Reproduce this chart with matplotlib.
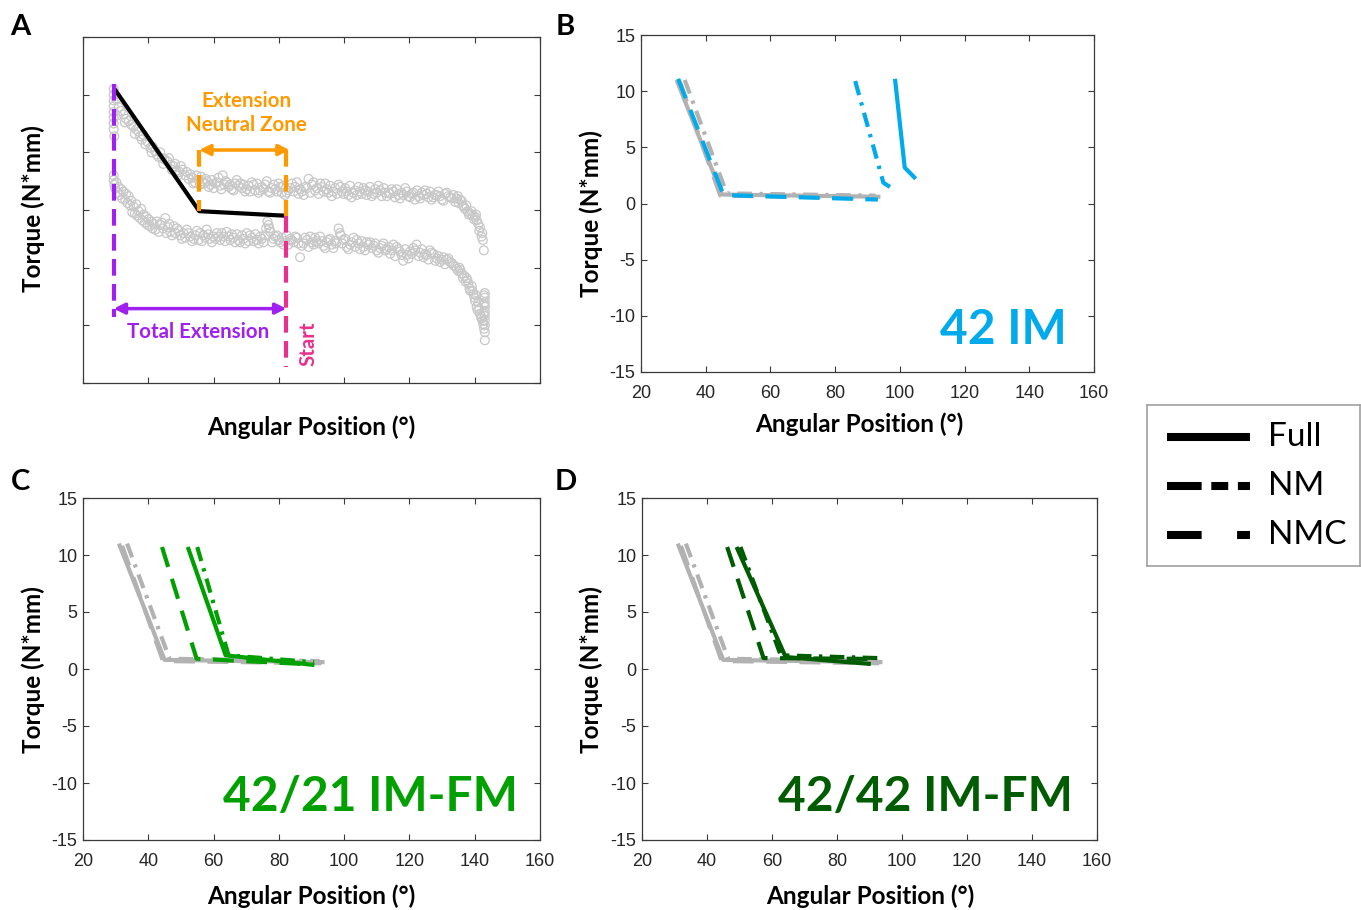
import matplotlib
matplotlib.use("Agg")
import matplotlib.pyplot as plt
import numpy as np

W, H = 1361, 910

# ---- data -------------------------------------------------------------
# panel A: raw torque loop (open circles), upper and lower branches
upper_x = [29.4, 29.4, 29.4, 29.4, 29.4, 29.4, 29.4, 29.4, 29.6, 31.0,
           32.4, 33.2, 34.0, 35.5, 36.3, 37.0, 38.0, 39.1, 40.6, 41.3,
           42.1, 43.2, 44.2, 45.0, 45.9, 46.8, 47.7, 48.6, 49.6, 50.5,
           51.3, 52.4, 53.4, 54.3, 55.4, 56.2, 57.1, 58.0, 59.0, 60.0,
           61.0, 62.0, 62.8, 63.7, 64.6, 65.6, 66.6, 67.6, 68.7, 69.7,
           70.7, 71.7, 72.7, 73.8, 74.8, 75.8, 76.8, 77.8, 78.9, 79.9,
           80.9, 81.9, 82.9, 84.0, 85.0, 86.0, 87.0, 88.1, 89.1, 90.1,
           91.1, 92.2, 93.2, 94.2, 95.2, 96.2, 97.2, 98.3, 99.3, 100.3,
           101.3, 102.3, 103.3, 104.4, 105.4, 106.4, 107.4, 108.5, 109.5, 110.5,
           111.5, 112.6, 113.6, 114.6, 115.6, 116.6, 117.6, 118.7, 119.7, 120.7,
           121.7, 122.8, 123.8, 124.8, 125.8, 126.8, 127.8, 128.9, 129.9, 130.9,
           131.9, 133.0, 134.0, 134.8, 135.5, 136.3, 137.0, 137.8, 138.6, 139.4,
           140.1, 140.6, 141.1, 141.6, 142.1, 142.5, 142.8]
upper_y = [10.5, 10.0, 9.5, 9.0, 8.5, 8.0, 7.5, 7.0, 6.4, 8.9,
           8.3, 7.9, 7.7, 7.2, 7.0, 6.8, 6.1, 5.7, 5.4, 5.5,
           5.1, 4.6, 4.5, 4.4, 4.2, 3.9, 3.8, 3.4, 3.3, 3.5,
           3.0, 2.7, 2.8, 2.4, 2.6, 2.9, 2.3, 2.5, 2.2, 1.9,
           2.4, 2.1, 3.0, 2.5, 2.0, 1.8, 2.3, 2.1, 1.9, 1.6,
           2.1, 2.4, 1.7, 1.5, 2.0, 2.2, 1.6, 1.9, 1.8, 2.3,
           1.5, 1.3, 1.7, 2.3, 2.0, 1.4, 1.6, 2.0, 2.7, 2.2,
           1.7, 1.4, 2.0, 2.3, 1.5, 1.2, 1.9, 2.2, 1.6, 1.9,
           1.3, 1.1, 1.7, 2.0, 1.4, 1.7, 1.6, 1.2, 1.8, 2.1,
           1.2, 1.5, 1.5, 1.8, 1.1, 1.3, 1.5, 1.9, 1.2, 1.4,
           0.9, 1.2, 1.5, 1.7, 1.1, 0.9, 1.3, 1.6, 0.9, 1.4,
           1.2, 1.0, 0.7, 1.2, 0.9, 0.4, 0.1, -0.1, -0.3, -0.5,
           -0.6, -0.9, -1.2, -1.5, -2.3, -2.6, -3.5]
# second pass of the loading branch (interleaved samples)
upper2_x = [30.2, 30.5, 31.6, 32.8, 34.7, 35.9, 37.5, 38.5, 39.8, 41.0,
            42.6, 43.7, 44.6, 46.3, 47.2, 48.2, 49.1, 50.0, 51.8, 52.9,
            53.8, 54.8, 55.8, 56.6, 57.6, 58.5, 59.5, 60.5, 61.5, 62.4,
            63.2, 64.1, 65.1, 66.1, 67.1, 68.2, 69.2, 70.2, 71.2, 72.2,
            73.3, 74.3, 75.3, 76.3, 77.3, 78.4, 79.4, 80.4, 81.4, 82.4,
            83.5, 84.5, 85.5, 86.5, 87.6, 88.6, 89.6, 90.6, 91.6, 92.7,
            93.7, 94.7, 95.7, 96.7, 97.8, 98.8, 99.8, 100.8, 101.8, 102.8,
            103.9, 104.9, 105.9, 106.9, 107.9, 109.0, 110.0, 111.0, 112.1, 113.1,
            114.1, 115.1, 116.1, 117.1, 118.2, 119.2, 120.2, 121.2, 122.3, 123.3,
            124.3, 125.3, 126.3, 127.3, 128.4, 129.4, 130.4, 131.4, 132.5, 133.5,
            134.4, 135.1, 136.0, 136.6, 137.4, 138.2, 139.0, 139.8, 140.4, 141.4,
            142.3]
upper2_y = [9.6, 8.2, 8.6, 7.6, 7.4, 6.6, 6.4, 6.5, 5.9, 5.0,
            4.8, 5.0, 4.0, 4.5, 3.5, 4.0, 3.0, 3.8, 3.3, 3.1,
            2.3, 3.0, 2.2, 2.5, 2.7, 2.0, 2.6, 2.3, 2.8, 1.8,
            2.2, 2.4, 2.2, 1.7, 2.6, 2.3, 2.2, 1.8, 1.6, 2.2,
            2.3, 1.7, 1.8, 2.5, 1.5, 2.2, 1.6, 2.0, 2.1, 1.5,
            1.9, 1.6, 2.4, 1.8, 1.3, 1.9, 1.5, 2.4, 1.9, 2.3,
            1.6, 1.8, 2.1, 1.6, 1.4, 2.0, 1.4, 1.6, 2.1, 1.5,
            1.3, 1.6, 1.9, 1.3, 2.0, 1.4, 1.5, 1.7, 1.9, 1.2,
            1.4, 1.6, 1.8, 1.0, 1.3, 1.6, 1.1, 1.5, 1.7, 1.0,
            1.3, 1.4, 1.6, 1.1, 1.3, 1.2, 0.8, 1.5, 1.1, 1.3,
            1.0, 0.6, 0.8, 0.3, 0.4, -0.4, -0.1, -0.8, -0.4, -1.8,
            -2.0]

lower_x = [29.4, 29.4, 29.6, 30.2, 30.9, 31.7, 32.4, 33.2, 34.0, 34.8,
           35.5, 36.3, 37.0, 37.8, 38.6, 39.4, 40.1, 40.9, 41.6, 42.7,
           43.7, 44.5, 45.2, 46.0, 46.7, 47.8, 48.8, 49.8, 50.8, 51.8,
           52.8, 53.9, 54.9, 55.9, 56.9, 57.9, 58.9, 60.0, 61.0, 62.0,
           63.0, 64.0, 65.1, 66.1, 67.1, 68.1, 69.2, 70.2, 71.2, 72.3,
           73.3, 74.3, 75.3, 76.1, 76.8, 77.4, 78.4, 79.4, 80.4, 81.4,
           82.4, 83.5, 84.5, 85.5, 86.5, 87.6, 88.6, 89.6, 90.6, 91.6,
           92.6, 93.7, 94.7, 95.7, 96.7, 97.5, 98.3, 99.0, 99.8, 100.8,
           101.8, 102.9, 103.9, 104.9, 105.9, 106.9, 107.9, 109.0, 110.0, 111.0,
           112.0, 113.1, 114.1, 115.1, 116.1, 117.1, 118.1, 119.2, 120.2, 121.2,
           122.2, 123.3, 124.3, 125.3, 126.3, 127.4, 128.4, 129.4, 130.4, 131.4,
           132.4, 133.5, 134.5, 135.3, 136.0, 136.8, 137.5, 138.1, 138.6, 139.1,
           139.6, 140.1, 140.6, 141.1, 141.6, 142.1, 142.6, 143.1, 143.1, 143.1,
           143.1, 143.1, 143.1, 143.1, 143.1, 143.1, 143.1]
lower_y = [3.0, 2.6, 2.2, 2.4, 2.0, 1.8, 1.6, 1.4, 1.2, 0.8,
           0.3, 0.5, -0.1, 0.1, -0.4, -0.6, -0.8, -1.0, -1.2, -1.0,
           -1.3, -1.6, -0.7, -1.5, -1.9, -1.4, -1.6, -2.2, -2.0, -1.7,
           -2.3, -2.5, -1.8, -2.0, -2.2, -1.7, -2.5, -2.3, -2.0, -2.6,
           -2.3, -1.9, -2.6, -2.4, -2.1, -2.8, -2.5, -2.0, -2.2, -2.7,
           -2.6, -2.3, -2.8, -1.6, -1.3, -1.9, -2.5, -2.2, -2.8, -3.0,
           -2.2, -2.5, -2.8, -2.4, -4.1, -2.9, -2.6, -2.3, -3.0, -2.7,
           -2.3, -3.1, -2.8, -2.5, -3.3, -2.9, -1.6, -2.2, -2.6, -3.2,
           -3.0, -2.4, -2.6, -3.4, -3.2, -2.8, -2.8, -3.1, -3.5, -3.3,
           -2.9, -3.4, -3.8, -3.0, -3.2, -3.6, -4.4, -3.9, -3.6, -3.3,
           -3.0, -3.7, -4.1, -3.9, -3.5, -3.8, -4.2, -4.5, -4.1, -4.3,
           -4.5, -4.8, -5.1, -5.0, -5.5, -5.7, -5.9, -6.4, -7.0, -6.6,
           -7.3, -7.9, -8.4, -8.0, -9.0, -9.4, -9.9, -7.2, -7.6, -8.0,
           -8.4, -8.8, -9.2, -9.6, -10.0, -10.6, -11.3]
lower2_x = [29.8, 30.6, 31.3, 32.0, 32.9, 33.6, 34.4, 35.1, 35.9, 36.6,
            37.4, 38.2, 39.0, 39.8, 40.5, 41.3, 42.2, 43.2, 44.1, 45.6,
            46.4, 47.3, 48.3, 49.3, 50.3, 51.3, 52.3, 53.4, 54.4, 55.4,
            56.4, 57.4, 58.4, 59.5, 60.5, 61.5, 62.5, 63.5, 64.6, 65.6,
            66.6, 67.6, 68.7, 69.7, 70.7, 71.7, 72.8, 73.8, 74.8, 75.8,
            76.5, 77.1, 77.9, 78.9, 79.9, 80.9, 81.9, 82.9, 84.0, 85.0,
            86.0, 87.0, 88.1, 89.1, 90.1, 91.1, 92.1, 93.2, 94.2, 95.2,
            96.2, 97.2, 98.7, 99.4, 100.3, 101.3, 102.3, 103.4, 104.4, 105.4,
            106.4, 107.4, 108.5, 109.5, 110.5, 111.5, 112.6, 113.6, 114.6, 115.6,
            116.6, 117.6, 118.7, 119.7, 120.7, 121.7, 122.8, 123.8, 124.8, 125.8,
            126.8, 127.9, 128.9, 129.9, 130.9, 131.9, 133.0, 134.0, 135.0, 135.6,
            136.4, 137.2, 137.8, 138.4, 139.3, 139.9, 140.4, 140.9, 141.4, 141.9,
            142.4, 142.9, 142.9, 142.9, 142.9]
lower2_y = [1.9, 1.5, 1.3, 1.0, 0.9, 0.6, 0.4, -0.2, -0.3, -0.5,
            -0.7, -0.9, -1.1, -1.3, -1.4, -1.6, -1.7, -1.9, -1.1, -2.0,
            -1.2, -2.2, -2.0, -1.8, -2.5, -2.4, -2.0, -2.7, -2.2, -2.6,
            -2.7, -2.4, -2.1, -2.8, -2.5, -2.3, -2.0, -2.7, -2.3, -2.1,
            -2.8, -2.6, -2.2, -2.9, -2.7, -2.4, -2.1, -2.9, -2.5, -2.2,
            -1.0, -1.6, -2.8, -2.3, -2.6, -2.4, -2.7, -3.0, -2.6, -2.3,
            -2.9, -3.1, -2.4, -3.2, -2.8, -2.4, -2.9, -2.7, -3.3, -2.6,
            -3.0, -2.7, -2.0, -2.9, -2.5, -3.4, -2.8, -3.2, -2.9, -2.7,
            -3.5, -3.0, -3.3, -2.9, -3.7, -3.1, -3.5, -3.2, -3.5, -4.0,
            -3.4, -3.9, -3.4, -4.2, -3.8, -3.5, -4.0, -3.4, -3.8, -4.3,
            -3.7, -4.4, -4.0, -4.3, -4.7, -4.2, -4.6, -4.9, -5.3, -5.2,
            -5.9, -6.2, -6.1, -6.8, -7.0, -7.6, -7.4, -8.7, -8.6, -9.2,
            -9.6, -10.3, -7.4, -8.2, -9.0]

# panel A: fitted bilinear curve and zone markers
fit_x = [29.4, 55.6, 82.3]
fit_y = [10.6, -0.1, -0.5]
total_ext = [29.4, 82.3]
neutral_zone = [55.6, 82.3]

# control (gray) curves, same in B, C, D
ctrl = {
    "Full": ([31.0, 45.0, 94.0], [11.0, 0.8, 0.6]),
    "NM": ([33.5, 46.5, 92.5], [11.0, 0.9, 0.7]),
    "NMC": ([32.0, 44.5, 93.0], [10.8, 0.7, 0.5]),
}
# B: 42 IM
b_curves = {
    "Full": ([98.5, 101.5, 104.9], [11.1, 3.2, 2.2]),
    "NM": ([86.2, 94.9, 97.9], [10.9, 1.85, 1.3]),
    "NMC": ([31.5, 45.5, 93.2], [11.1, 0.75, 0.35]),
}
# C: 42/21 IM-FM
c_curves = {
    "Full": ([52.1, 63.7, 90.9], [10.7, 1.2, 0.35]),
    "NM": ([55.0, 64.6, 90.8], [10.7, 1.2, 0.6]),
    "NMC": ([44.2, 54.8, 90.5], [10.7, 0.9, 0.4]),
}
# D: 42/42 IM-FM
d_curves = {
    "Full": ([49.1, 64.2, 90.4], [10.7, 1.05, 0.44]),
    "NM": ([50.3, 62.7, 92.5], [10.7, 1.2, 0.96]),
    "NMC": ([46.2, 57.4, 92.5], [10.7, 0.96, 0.88]),
}

x_ticks = [20, 40, 60, 80, 100, 120, 140, 160]
y_ticks = [-15, -10, -5, 0, 5, 10, 15]

# ---- styles -----------------------------------------------------------
GRAY = "#b2b2b2"
BLUE = "#00aaeb"
GREEN = "#00a000"
DKGREEN = "#005c00"
DASHES = {"Full": None, "NM": (3.5, 1.8, 0.8, 1.8), "NMC": (5, 3)}
LABFONT = "Lato"

plt.rcParams["font.family"] = ["Liberation Sans", "DejaVu Sans"]
plt.rcParams["axes.unicode_minus"] = False

fig = plt.figure(figsize=(W / 100, H / 100), dpi=100)


def px_axes(l, t, r, b):
    return fig.add_axes([l / W, 1 - b / H, (r - l) / W, (b - t) / H])


def fpos(x, y):
    return x / W, 1 - y / H


def style_axes(ax, show_labels=True):
    ax.set_xlim(20, 160)
    ax.set_ylim(-15, 15)
    ax.set_xticks(x_ticks)
    ax.set_yticks(y_ticks)
    for s in ax.spines.values():
        s.set_color("#3a3a3a")
        s.set_linewidth(0.9)
    ax.tick_params(direction="in", top=True, right=True, length=4, width=0.8,
                   color="#3a3a3a", labelsize=13, labelcolor="#262626")
    ax.tick_params(axis="x", pad=9)
    ax.tick_params(axis="y", pad=4)
    if not show_labels:
        ax.set_xticklabels([])
        ax.set_yticklabels([])


def add_labels(ax, xl_pos, yl_pos):
    ax.set_xlabel("Angular Position (°)", fontfamily=LABFONT, fontweight="bold",
                  fontsize=17.5, va="center")
    ax.set_ylabel("Torque (N*mm)", fontfamily=LABFONT, fontweight="bold",
                  fontsize=17.5, va="center")
    ax.xaxis.set_label_coords(*fpos(*xl_pos), transform=fig.transFigure)
    ax.yaxis.set_label_coords(*fpos(*yl_pos), transform=fig.transFigure)


def draw_curves(ax, curves, color):
    for name in ["Full", "NM", "NMC"]:
        x, y = curves[name]
        ln, = ax.plot(x, y, color=color, lw=3, solid_capstyle="butt",
                      dash_capstyle="butt")
        if DASHES[name] is not None:
            ln.set_dashes(DASHES[name])


# ---- panel A ----------------------------------------------------------
axA = px_axes(83, 37, 540, 383)
style_axes(axA, show_labels=False)
add_labels(axA, (311, 427), (33, 209))
for xs, ys in [(upper_x, upper_y), (upper2_x, upper2_y),
               (lower_x, lower_y), (lower2_x, lower2_y)]:
    axA.scatter(xs, ys, s=40, facecolors="none", edgecolors="#c8c8c8", lw=0.9)
axA.plot(fit_x, fit_y, color="black", lw=3, solid_capstyle="butt")

PURPLE = "#a020f0"
ORANGE = "#ff9900"
PINK = "#e8308c"
axA.plot([total_ext[0]] * 2, [10.9, -9.3], color=PURPLE, lw=3, dashes=(4, 2))
axA.plot([total_ext[1]] * 2, [fit_y[-1], -13.6], color=PINK, lw=3, dashes=(4, 2))
axA.plot([neutral_zone[0]] * 2, [5.2, fit_y[1]], color=ORANGE, lw=3, dashes=(4, 2))
axA.plot([neutral_zone[1]] * 2, [5.2, fit_y[-1]], color=ORANGE, lw=3, dashes=(4, 2))
axA.annotate("", xy=(total_ext[1], -8.55), xytext=(total_ext[0], -8.55),
             arrowprops=dict(arrowstyle="<|-|>", color=PURPLE, lw=2.5,
                             mutation_scale=16, shrinkA=0, shrinkB=0))
axA.annotate("", xy=(neutral_zone[1] + 1, 5.2), xytext=(neutral_zone[0], 5.2),
             arrowprops=dict(arrowstyle="<|-|>", color=ORANGE, lw=2.5,
                             mutation_scale=16, shrinkA=0, shrinkB=0))
axA.text(55.4, -10.6, "Total Extension", color=PURPLE, fontfamily=LABFONT,
         fontweight="bold", fontsize=14.8, ha="center", va="center")
axA.text(70.2, 8.4, "Extension\nNeutral Zone", color=ORANGE, fontfamily=LABFONT,
         fontweight="bold", fontsize=14.8, ha="center", va="center", linespacing=1.25)
axA.text(89.1, -11.6, "Start", color=PINK, fontfamily=LABFONT, fontweight="bold",
         fontsize=14.8, ha="center", va="center", rotation=90)

# ---- panels B, C, D ---------------------------------------------------
axB = px_axes(641, 35, 1094, 372)
style_axes(axB)
add_labels(axB, (859, 424), (591, 214))
draw_curves(axB, ctrl, GRAY)
draw_curves(axB, b_curves, BLUE)
axB.text(0.80, 0.125, "42 IM", transform=axB.transAxes, color=BLUE,
         fontfamily=LABFONT, fontweight="bold", fontsize=34.5, ha="center", va="center")

axC = px_axes(83, 498, 540, 840)
style_axes(axC)
add_labels(axC, (311, 896), (33, 670))
draw_curves(axC, ctrl, GRAY)
draw_curves(axC, c_curves, GREEN)
axC.text(0.628, 0.126, "42/21 IM-FM", transform=axC.transAxes, color=GREEN,
         fontfamily=LABFONT, fontweight="bold", fontsize=34.5, ha="center", va="center")

axD = px_axes(642, 498, 1097, 840)
style_axes(axD)
add_labels(axD, (870, 896), (591, 670))
draw_curves(axD, ctrl, GRAY)
draw_curves(axD, d_curves, DKGREEN)
axD.text(0.622, 0.126, "42/42 IM-FM", transform=axD.transAxes, color=DKGREEN,
         fontfamily=LABFONT, fontweight="bold", fontsize=34.5, ha="center", va="center")

# panel letters
for letter, (x, y) in zip("ABCD", [(20, 27), (565, 27), (20, 482), (566, 482)]):
    fig.text(*fpos(x, y), letter, fontfamily=LABFONT, fontweight="bold",
             fontsize=21, ha="center", va="center")

# ---- legend -----------------------------------------------------------
axL = px_axes(1147, 405, 1360, 566)
axL.set_xlim(0, 1)
axL.set_ylim(0, 1)
axL.set_xticks([])
axL.set_yticks([])
for s in axL.spines.values():
    s.set_color("#a0a0a0")
    s.set_linewidth(1.2)
leg_dashes = {"Full": None, "NM": (4.3, 1.2, 2.1, 1.2), "NMC": (4.3, 4.4)}
for name, yy in zip(["Full", "NM", "NMC"], [0.80, 0.497, 0.193]):
    ln, = axL.plot([0.094, 0.484], [yy, yy], color="black", lw=5.8,
                   solid_capstyle="butt", dash_capstyle="butt")
    if leg_dashes[name] is not None:
        ln.set_dashes(leg_dashes[name])
    axL.text(0.568, yy, name, fontfamily=LABFONT, fontsize=24, ha="left", va="center")

fig.savefig("out.png", dpi=100)
